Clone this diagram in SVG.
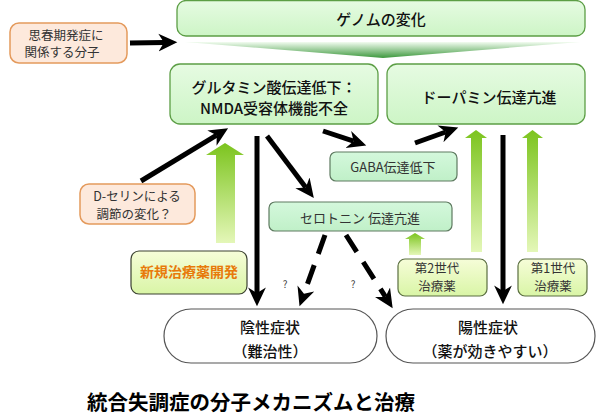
<svg xmlns="http://www.w3.org/2000/svg" width="597" height="416" viewBox="0 0 597 416">
<defs>
<style>
text{font-family:"Noto Sans CJK JP","Noto Sans",sans-serif;text-anchor:middle;dominant-baseline:central}
.big{font-size:15px;font-weight:500;fill:#111}
.sm{font-size:13px;fill:#333}
.sm2{font-size:12.5px;fill:#333}
.mainbox{fill:url(#gMain);stroke:#5c9e45;stroke-width:1.3}
.mint{fill:url(#gMint);stroke:#5e7a60;stroke-width:1.2}
.orange{fill:#fde9dc;stroke:#e49a5c;stroke-width:1.5}
.drug{fill:url(#gDrug);stroke:#5a6e40;stroke-width:1.2}
.sym{fill:#fff;stroke:#555;stroke-width:1.2}
.blk{stroke:#000;stroke-width:5;fill:none;marker-end:url(#ah)}
.dash{stroke:#000;stroke-width:5;fill:none;stroke-dasharray:20 12;marker-end:url(#ah)}
.up{fill:url(#gUp)}
</style>
<linearGradient id="gMain" x1="0" y1="0" x2="0" y2="1"><stop offset="0" stop-color="#e6fbe2"/><stop offset="1" stop-color="#cdf5c6"/></linearGradient>
<linearGradient id="gMint" x1="0" y1="0" x2="0" y2="1"><stop offset="0" stop-color="#d4f8dc"/><stop offset="1" stop-color="#c0f0c8"/></linearGradient>
<linearGradient id="gDrug" x1="0" y1="0" x2="0" y2="1"><stop offset="0" stop-color="#f6fdd8"/><stop offset="1" stop-color="#d9f5a6"/></linearGradient>
<linearGradient id="gUp" x1="0" y1="0" x2="0" y2="1"><stop offset="0" stop-color="#7cc41e"/><stop offset="1" stop-color="#e4f7b8"/></linearGradient>
<linearGradient id="gWedge" x1="0" y1="0" x2="0" y2="1"><stop offset="0" stop-color="#f2fcf0"/><stop offset="1" stop-color="#3d983d"/></linearGradient>
<marker id="ah" markerUnits="userSpaceOnUse" markerWidth="20" markerHeight="20" viewBox="0 0 18 18" refX="5" refY="9" orient="auto">
<path d="M0,1 L17,9 L0,17 L5,9 Z" fill="#000"/>
</marker>
</defs>
<rect width="597" height="416" fill="#fff"/>

<g id="connectors">
<line class="blk" x1="130" y1="43" x2="164" y2="42.5"/>
<line class="blk" x1="141" y1="181" x2="216.7" y2="135.2"/>
<line class="blk" x1="257" y1="136" x2="257" y2="293"/>
<line class="blk" x1="267" y1="136" x2="305.8" y2="187.4"/>
<line class="blk" x1="323" y1="131" x2="353.6" y2="141.2"/>
<line class="blk" x1="415" y1="143" x2="445.7" y2="132"/>
<line class="blk" x1="503" y1="135" x2="503" y2="291"/>
<line class="dash" x1="325" y1="235" x2="304" y2="293.7"/>
<line class="dash" x1="346" y1="235" x2="385.5" y2="296.9"/>
<text x="285" y="283" style="font-size:10px;fill:#444">?</text>
<text x="353" y="283" style="font-size:10px;fill:#444">?</text>
</g>

<g id="wedge">
<polygon points="185,42 580,42 383,58" fill="url(#gWedge)"/>
</g>

<g id="up-arrows">
<path class="up" d="M225,143 L244,155 L235,155 L235,243 L216,243 L216,155 L206,155 Z"/>
<path class="up" d="M415,233 L425,239 L421,239 L421,255 L409,255 L409,239 L405,239 Z"/>
<path class="up" d="M476,130 L487,138 L482,138 L482,252 L471,252 L471,138 L465,138 Z"/>
<path class="up" d="M532.5,130 L543,138 L538,138 L538,252 L527,252 L527,138 L522,138 Z"/>
</g>

<g id="genome">
<rect class="mainbox" x="177" y="0.5" width="408" height="35.5" rx="9"/>
<text class="big" x="381" y="18">ゲノムの変化</text>
</g>

<g id="puberty">
<rect class="orange" x="10" y="23" width="117" height="40" rx="9"/>
<text class="sm2" x="66" y="34">思春期発症に</text>
<text class="sm2" x="62" y="51">関係する分子</text>
</g>

<g id="glutamate">
<rect class="mainbox" x="170" y="64" width="208" height="60" rx="10"/>
<text class="big" x="274" y="86">グルタミン酸伝達低下：</text>
<text class="big" x="274" y="107">NMDA受容体機能不全</text>
</g>

<g id="dopamine">
<rect class="mainbox" x="387" y="64" width="198" height="60" rx="10"/>
<text class="big" x="489" y="96">ドーパミン伝達亢進</text>
</g>

<g id="gaba">
<rect class="mint" x="330" y="152" width="127" height="29" rx="6"/>
<text class="sm" x="393" y="166">GABA伝達低下</text>
</g>

<g id="serotonin">
<rect class="mint" x="269" y="202" width="183" height="29" rx="6"/>
<text class="sm" x="360" y="217">セロトニン 伝達亢進</text>
</g>

<g id="dserine">
<rect class="orange" x="80" y="184" width="115" height="40" rx="9"/>
<text class="sm2" x="137" y="195">D-セリンによる</text>
<text class="sm2" x="134" y="213.5">調節の変化？</text>
</g>

<g id="newdrug">
<rect class="drug" x="131" y="251" width="116" height="43" rx="8" style="stroke:#3a4030"/>
<text x="189" y="271" style="font-size:14px;font-weight:bold;fill:#e87a0a">新規治療薬開発</text>
</g>

<g id="gen2">
<rect class="drug" x="398" y="259" width="89" height="37" rx="7"/>
<text class="sm2" x="437" y="267">第2世代</text>
<text class="sm2" x="437" y="285">治療薬</text>
</g>

<g id="gen1">
<rect class="drug" x="518" y="259" width="69" height="37" rx="7"/>
<text class="sm2" x="553" y="267">第1世代</text>
<text class="sm2" x="553" y="285">治療薬</text>
</g>

<g id="negative">
<rect class="sym" x="164" y="309" width="213" height="54" rx="27"/>
<text class="big" x="270" y="326">陰性症状</text>
<text class="big" x="270" y="350">（難治性）</text>
</g>

<g id="positive">
<rect class="sym" x="386" y="309" width="209" height="54" rx="27"/>
<text class="big" x="488" y="326">陽性症状</text>
<text class="big" x="490" y="350">（薬が効きやすい）</text>
</g>

<g id="title">
<text x="87" y="401" style="text-anchor:start;font-size:20.5px;font-weight:bold;fill:#000">統合失調症の分子メカニズムと治療</text>
</g>
</svg>
